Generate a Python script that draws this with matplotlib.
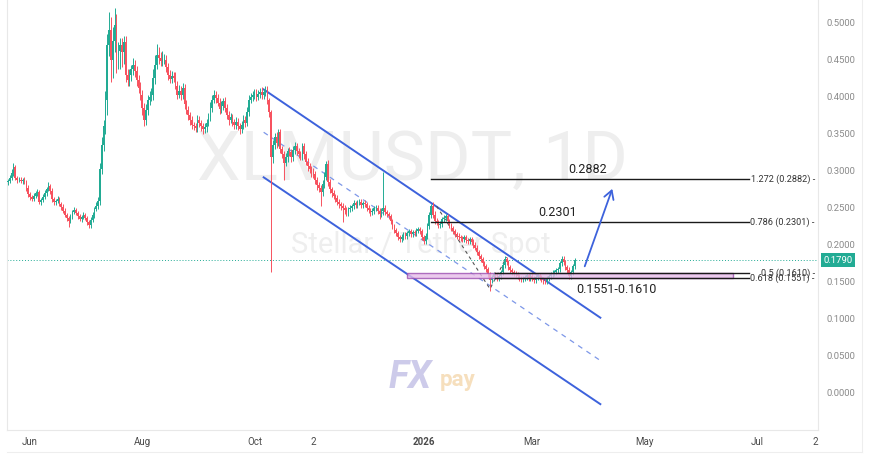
import matplotlib

matplotlib.use("Agg")
import matplotlib.dates as mdates
import matplotlib.pyplot as plt
import matplotlib.transforms as mtransforms
import numpy as np
import pandas as pd
from matplotlib.lines import Line2D
from matplotlib.patches import Rectangle

plt.rcParams["font.family"] = ["Roboto", "DejaVu Sans"]

# ---- data ----
START = "2025-05-20"
first_open = 0.284
closes = [
    0.286, 0.290, 0.297, 0.305, 0.290, 0.287, 0.288, 0.286, 0.287, 0.285,
    0.276, 0.268, 0.264, 0.262, 0.266, 0.270, 0.271, 0.258, 0.260, 0.265,
    0.270, 0.275, 0.279, 0.272, 0.262, 0.257, 0.259, 0.262, 0.255, 0.251,
    0.246, 0.240, 0.236, 0.232, 0.238, 0.244, 0.247, 0.243, 0.238, 0.235,
    0.237, 0.240, 0.236, 0.230, 0.226, 0.233, 0.240, 0.248, 0.252, 0.259,
    0.302, 0.335, 0.360, 0.396, 0.470, 0.490, 0.450, 0.475, 0.497, 0.457,
    0.462, 0.470, 0.460, 0.474, 0.430, 0.423, 0.430, 0.437, 0.443, 0.435,
    0.423, 0.412, 0.403, 0.385, 0.369, 0.382, 0.396, 0.400, 0.403, 0.425,
    0.443, 0.457, 0.452, 0.448, 0.450, 0.450, 0.440, 0.430, 0.424, 0.428,
    0.426, 0.415, 0.403, 0.408, 0.402, 0.412, 0.390, 0.382, 0.375, 0.369,
    0.362, 0.360, 0.358, 0.369, 0.364, 0.360, 0.356, 0.359, 0.365, 0.372,
    0.385, 0.396, 0.403, 0.398, 0.392, 0.383, 0.388, 0.394, 0.385, 0.376,
    0.369, 0.372, 0.366, 0.362, 0.366, 0.360, 0.356, 0.362, 0.369, 0.365,
    0.380, 0.396, 0.400, 0.402, 0.405, 0.400, 0.404, 0.407, 0.402, 0.406,
    0.410, 0.395, 0.379, 0.319, 0.335, 0.346, 0.338, 0.352, 0.330, 0.322,
    0.311, 0.318, 0.326, 0.325, 0.318, 0.328, 0.333, 0.327, 0.322, 0.320,
    0.333, 0.322, 0.312, 0.306, 0.302, 0.298, 0.295, 0.288, 0.280, 0.276,
    0.271, 0.282, 0.292, 0.309, 0.285, 0.275, 0.270, 0.266, 0.263, 0.258,
    0.255, 0.252, 0.250, 0.247, 0.244, 0.248, 0.250, 0.252, 0.256, 0.254,
    0.257, 0.258, 0.254, 0.256, 0.255, 0.250, 0.247, 0.244, 0.246, 0.249,
    0.250, 0.246, 0.241, 0.245, 0.250, 0.244, 0.241, 0.239, 0.232, 0.225,
    0.220, 0.215, 0.210, 0.207, 0.210, 0.214, 0.212, 0.216, 0.218, 0.214,
    0.217, 0.216, 0.219, 0.221, 0.218, 0.210, 0.205, 0.212, 0.225, 0.240,
    0.252, 0.240, 0.232, 0.230, 0.226, 0.228, 0.234, 0.236, 0.238, 0.232,
    0.226, 0.222, 0.218, 0.214, 0.212, 0.210, 0.209, 0.207, 0.210, 0.206,
    0.205, 0.207, 0.204, 0.200, 0.196, 0.190, 0.184, 0.180, 0.175, 0.171,
    0.167, 0.160, 0.152, 0.156, 0.160, 0.158, 0.155, 0.157, 0.163, 0.172,
    0.180, 0.176, 0.170, 0.165, 0.163, 0.161, 0.160, 0.157, 0.155, 0.153,
    0.155, 0.156, 0.159, 0.154, 0.158, 0.155, 0.152, 0.156, 0.158, 0.156,
    0.153, 0.151, 0.150, 0.154, 0.157, 0.160, 0.162, 0.163, 0.165, 0.167,
    0.175, 0.181, 0.176, 0.170, 0.166, 0.157, 0.163, 0.171, 0.179,
]
# wick lengths above / below the body, in thousandths of a USDT
upper_wick_milli = [
    3, 4, 5, 6, 3, 3, 4, 3, 3, 4,
    3, 4, 3, 3, 4, 3, 4, 3, 3, 4,
    4, 3, 5, 3, 4, 3, 3, 4, 3, 3,
    4, 3, 3, 3, 4, 3, 4, 3, 3, 4,
    3, 4, 3, 3, 3, 4, 4, 3, 5, 6,
    8, 10, 8, 12, 15, 25, 18, 20, 23, 15,
    12, 10, 10, 8, 8, 7, 8, 6, 9, 7,
    6, 7, 8, 6, 6, 8, 6, 8, 9, 12,
    14, 15, 10, 8, 12, 8, 7, 6, 6, 7,
    6, 7, 6, 8, 6, 7, 5, 5, 6, 5,
    5, 4, 5, 6, 5, 4, 5, 6, 5, 6,
    8, 7, 6, 5, 6, 7, 6, 5, 6, 5,
    5, 6, 5, 4, 6, 5, 4, 5, 6, 5,
    6, 7, 5, 6, 5, 6, 5, 5, 6, 4,
    4, 5, 4, 3, 6, 5, 6, 5, 5, 4,
    5, 6, 5, 6, 5, 5, 6, 5, 4, 5,
    4, 5, 4, 5, 4, 4, 5, 4, 4, 4,
    4, 5, 6, 4, 5, 4, 3, 4, 3, 4,
    4, 3, 4, 3, 4, 3, 4, 3, 4, 3,
    3, 4, 3, 3, 4, 3, 3, 3, 4, 3,
    4, 3, 3, 4, 48, 3, 3, 3, 3, 3,
    3, 3, 3, 3, 4, 3, 3, 3, 3, 3,
    3, 3, 3, 3, 3, 3, 3, 3, 4, 4,
    3, 6, 5, 4, 3, 4, 3, 4, 3, 3,
    3, 3, 3, 3, 3, 3, 3, 3, 3, 3,
    3, 3, 3, 3, 3, 3, 3, 3, 3, 3,
    3, 3, 3, 3, 3, 3, 3, 3, 3, 4,
    4, 3, 3, 3, 3, 3, 3, 3, 3, 3,
    3, 3, 3, 3, 3, 3, 3, 3, 3, 3,
    3, 3, 3, 3, 3, 3, 3, 3, 3, 3,
    3, 3, 3, 3, 3, 3, 3, 3, 3,
]
lower_wick_milli = [
    4, 3, 3, 4, 3, 4, 3, 3, 4, 3,
    4, 3, 4, 3, 3, 3, 4, 3, 4, 3,
    3, 4, 3, 3, 4, 3, 4, 3, 3, 4,
    3, 3, 4, 8, 3, 4, 3, 3, 4, 3,
    4, 3, 3, 4, 4, 3, 3, 4, 3, 4,
    5, 6, 8, 10, 20, 15, 30, 25, 15, 25,
    20, 25, 20, 15, 10, 8, 9, 8, 7, 8,
    8, 7, 8, 9, 8, 7, 6, 7, 6, 8,
    8, 6, 7, 6, 7, 6, 6, 7, 6, 5,
    6, 5, 6, 5, 6, 5, 6, 5, 6, 7,
    6, 5, 5, 6, 5, 6, 7, 5, 6, 5,
    5, 6, 5, 6, 5, 6, 5, 6, 5, 6,
    7, 5, 6, 5, 6, 5, 6, 5, 5, 6,
    5, 6, 5, 6, 5, 6, 5, 6, 5, 5,
    5, 5, 6, 156, 8, 6, 7, 5, 6, 5,
    23, 5, 6, 5, 6, 5, 5, 6, 5, 5,
    5, 6, 5, 6, 5, 6, 5, 6, 6, 5,
    19, 5, 6, 5, 6, 5, 5, 5, 6, 5,
    5, 5, 20, 5, 5, 5, 4, 4, 4, 4,
    4, 4, 4, 4, 4, 4, 4, 5, 4, 4,
    4, 4, 6, 4, 5, 4, 4, 4, 4, 4,
    4, 4, 4, 4, 4, 4, 4, 4, 4, 4,
    4, 4, 4, 4, 4, 4, 4, 4, 4, 4,
    4, 4, 4, 4, 4, 4, 4, 4, 4, 4,
    4, 4, 4, 4, 4, 4, 4, 4, 4, 4,
    4, 4, 4, 4, 4, 4, 4, 4, 4, 4,
    4, 4, 15, 4, 4, 4, 4, 4, 4, 4,
    4, 4, 4, 4, 4, 4, 4, 4, 4, 4,
    4, 4, 4, 4, 4, 4, 4, 4, 4, 4,
    4, 4, 4, 4, 4, 4, 4, 4, 4, 4,
    4, 4, 4, 4, 4, 4, 4, 4, 4,
]
last_price = 0.1790

y_ticks = [0.0, 0.05, 0.10, 0.15, 0.20, 0.25, 0.30, 0.35, 0.40, 0.45, 0.50]
x_tick_dates = ["2025-06-01", "2025-08-01", "2025-10-01", "2025-11-02", "2026-01-01",
                "2026-03-01", "2026-05-01", "2026-07-01", "2026-08-02"]
x_tick_labels = ["Jun", "Aug", "Oct", "2", "2026", "Mar", "May", "Jul", "2"]

# descending channel (start / end dates, prices at those dates)
channel_dates = ["2025-10-06", "2026-04-07"]
channel_upper = [0.410, 0.101]
channel_mid = [0.352, 0.043]
channel_lower = [0.291, -0.016]

# dashed swing legs inside the channel
swing_dates = ["2026-01-08", "2026-02-06", "2026-02-15"]
swing_prices = [0.252, 0.140, 0.183]

# fibonacci extension levels
fib_names = ["1.272", "0.786", "0.5", "0.618"]
fib_levels = [0.2882, 0.2301, 0.1610, 0.1551]
fib_starts = ["2026-01-05", "2026-01-05", "2026-02-09", "2026-02-09"]
fib_end = "2026-06-27"
zone_dates = ["2025-12-23", "2026-06-18"]
zone_prices = [0.1551, 0.1610]

arrow_dates = ["2026-03-29", "2026-04-14"]
arrow_prices = [0.167, 0.279]

GREEN = "#22ab94"
RED = "#f7525f"
BLUE = "#3d62dc"


def dnum(s):
    return mdates.date2num(pd.Timestamp(s))


def draw_candles(ax):
    c = np.array(closes)
    o = np.concatenate([[first_open], c[:-1]])
    hi = np.maximum(o, c) + np.array(upper_wick_milli) / 1000
    lo = np.minimum(o, c) - np.array(lower_wick_milli) / 1000
    x = mdates.date2num(pd.date_range(START, periods=len(c), freq="D"))
    col = np.where(c >= o, GREEN, RED)
    ax.vlines(x, lo, hi, colors=col, lw=0.7, zorder=3)
    body = np.maximum(np.abs(c - o), 0.0008)
    ax.bar(x, body, bottom=np.minimum(o, c), width=0.85, color=col, lw=0, zorder=3)


def main():
    fig = plt.figure(figsize=(8.7, 4.59), dpi=100)
    ax = fig.add_axes([7 / 870, 29 / 459, 811 / 870, 430 / 459])
    blend = mtransforms.blended_transform_factory(ax.transAxes, ax.transData)

    # watermark
    ax.text(0.50, 0.625, "XLMUSDT, 1D", transform=ax.transAxes, ha="center", va="center",
            fontsize=50, color="#eeeeee", zorder=0)
    ax.text(0.51, 0.43, "Stellar / Tether Spot", transform=ax.transAxes, ha="center",
            va="center", fontsize=21, color="#eeeeee", zorder=0)
    ax.text(0.470, 0.098, "FX", transform=ax.transAxes, fontsize=27, fontweight="bold",
            style="italic", color="#cdcbea", zorder=0)
    ax.text(0.534, 0.103, "pay", transform=ax.transAxes, fontsize=16, fontweight="bold",
            color="#f6dfbd", zorder=0)

    # channel
    cx = [dnum(s) for s in channel_dates]
    ax.plot(cx, channel_upper, color=BLUE, lw=1.4, zorder=2)
    ax.plot(cx, channel_lower, color=BLUE, lw=1.4, zorder=2)
    ax.plot(cx, channel_mid, color="#7d97e8", lw=0.9, ls=(0, (4, 4)), zorder=2)
    ax.plot([dnum(s) for s in swing_dates], swing_prices, color="#555555", lw=0.8,
            ls=(0, (3, 3)), zorder=2)

    # last price
    ax.axhline(last_price, color=GREEN, lw=0.7, ls=(0, (1, 2)), zorder=1)

    draw_candles(ax)

    # support zone + fib levels
    zx = dnum(zone_dates[0])
    ax.add_patch(Rectangle((zx, zone_prices[0]), dnum(zone_dates[1]) - zx,
                           zone_prices[1] - zone_prices[0], fc="#e7bde9", ec="#9b4fb0",
                           lw=1.0, alpha=0.8, zorder=4))
    for name, lvl, s in zip(fib_names, fib_levels, fib_starts):
        ax.plot([dnum(s), dnum(fib_end)], [lvl, lvl], color="#1a1a1a", lw=1.0, zorder=5)
        ax.text(0.996, lvl, f"{name} ({lvl:.4f}) -", transform=blend, ha="right",
                va="center", fontsize=6.6, color="#333333", zorder=6)
    ax.annotate("0.2882", (dnum("2026-03-31"), 0.2882), xytext=(0, 2.5),
                textcoords="offset points", ha="center", va="bottom", fontsize=9,
                color="#222222", zorder=6)
    ax.annotate("0.2301", (dnum("2026-03-15"), 0.2301), xytext=(0, 2.5),
                textcoords="offset points", ha="center", va="bottom", fontsize=9,
                color="#222222", zorder=6)
    ax.annotate("0.1551-0.1610", (dnum("2026-04-16"), 0.1551), xytext=(0, -4),
                textcoords="offset points", ha="center", va="top", fontsize=9,
                color="#222222", zorder=6)

    # projected breakout
    ax.annotate("", xy=(dnum(arrow_dates[1]), arrow_prices[1]),
                xytext=(dnum(arrow_dates[0]), arrow_prices[0]),
                arrowprops=dict(arrowstyle="->,head_length=0.6,head_width=0.35",
                                color=BLUE, lw=1.3), zorder=6)

    # axes
    ax.set_xlim(dnum(START) - 0.5, dnum(START) + 440.3)
    ax.set_ylim(-0.051, 0.531)
    ax.yaxis.tick_right()
    ax.set_yticks(y_ticks)
    ax.set_yticklabels([f"{v:.4f}" for v in y_ticks])
    ax.set_xticks([dnum(s) for s in x_tick_dates])
    ax.set_xticklabels(x_tick_labels)
    ax.get_xticklabels()[4].set_fontweight("bold")
    ax.tick_params(axis="y", length=0, pad=6, labelsize=6.8, labelcolor="#8a8a8a")
    ax.tick_params(axis="x", length=0, pad=5, labelsize=7, labelcolor="#4a4a4a")
    for side in ("left", "right", "bottom"):
        ax.spines[side].set_color("#e8e8e8")
        ax.spines[side].set_linewidth(0.8)
    ax.spines["top"].set_visible(False)

    ax.text(1.0247, last_price, f"{last_price:.4f}", transform=blend, ha="center",
            va="center", fontsize=6.8, color="white", zorder=7,
            bbox=dict(boxstyle="square,pad=0.3", fc=GREEN, ec="none"))

    fig.add_artist(Line2D([7 / 870, 862 / 870], [7 / 459, 7 / 459], color="#eeeeee", lw=0.8))
    fig.add_artist(Line2D([862 / 870, 862 / 870], [7 / 459, 1], color="#eeeeee", lw=0.8))

    fig.savefig("out.png", dpi=100)
    plt.close(fig)


if __name__ == "__main__":
    main()
